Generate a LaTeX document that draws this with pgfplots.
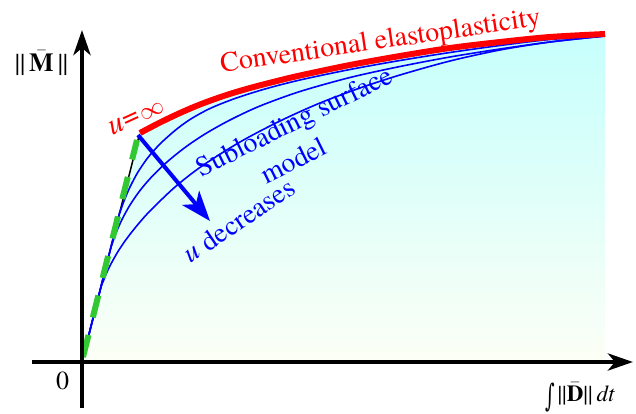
\documentclass[border=0pt]{standalone}
\usepackage{fontspec}
\setmainfont{TeX Gyre Termes}
\newfontfamily\symfont{DejaVu Serif}
\usepackage{graphicx}
\usepackage{pgfplots}
\pgfplotsset{compat=1.18}
\usetikzlibrary{arrows.meta}
\definecolor{myred}{RGB}{255,0,0}
\definecolor{myblue}{RGB}{0,0,255}
\definecolor{mygreen}{RGB}{50,200,50}
\definecolor{filltop}{RGB}{198,255,252}
\definecolor{fillmid}{RGB}{228,255,240}
\definecolor{fillbot}{RGB}{252,255,246}
\begin{document}
\begin{tikzpicture}
\begin{axis}[
  x=1pt, y=1pt,
  xmin=-50, xmax=551, ymin=-46, ymax=332,
  axis lines=middle,
  axis line style={line width=4.5pt},
  every inner x axis line/.append style={-{Stealth[length=25pt,width=17pt,inset=7pt]}},
  every inner y axis line/.append style={-{Stealth[length=25pt,width=17pt,inset=7pt]}},
  xtick=\empty, ytick=\empty,
  clip=false,
  axis on top,
]
% gradient area
\addplot[draw=none, top color=filltop, middle color=fillmid, bottom color=fillbot]
 coordinates {(0,0) (57,226) (58,229) (78,239.5) (98,249) (118,257.5) (143,266.5) (168,274) (193,280.5) (218,286.5) (268,297) (318,306) (368,314) (418,320) (468,325) (523,328)} \closedcycle;
% elastic line
\addplot[black, line width=1.5pt] coordinates {(0,0) (57,226)};
% subloading curves
\addplot[myblue, line width=1.6pt, smooth] coordinates {(0,0) (35,139) (38,149.5) (42,161) (48,175) (56,190) (66,204.5) (78,218) (93,231.5) (108,242.5) (128,253.5) (153,263.5) (183,273) (218,282) (268,292.5) (318,301.5) (368,309.5) (418,316.5) (468,322.5) (523,326)};
\addplot[myblue, line width=1.6pt, smooth] coordinates {(0,0) (27,107) (30,117.5) (34,129) (40,142.5) (48,157) (58,171.5) (70,185.5) (85,200) (103,214.5) (123,228) (148,242) (178,256) (218,270.5) (268,284.5) (318,295.5) (368,305) (418,313) (468,320) (523,326)};
\addplot[myblue, line width=1.6pt, smooth] coordinates {(0,0) (18,71) (21,80) (25,90) (30,100) (36,110.5) (43,121) (53,134) (67,150) (93,175) (120,196) (158,220) (198,241) (238,259) (278,274) (318,287) (368,301) (418,312) (468,320) (523,326)};
% green dashed
\addplot[mygreen, line width=6pt, dash pattern=on 22.7pt off 18pt] coordinates {(1,5) (55,222)};
% conventional
\addplot[myred, line width=6pt, smooth] coordinates {(58,229) (78,239.5) (98,249) (118,257.5) (143,266.5) (168,274) (193,280.5) (218,286.5) (268,297) (318,306) (368,314) (418,320) (468,325) (523,328)};
% arrow
\addplot[myblue, line width=4pt, -{Stealth[length=30pt,width=22pt,inset=8pt]}] coordinates {(56,227) (128,141)};
% texts
\node[myred, rotate=8.4, anchor=base, font=\fontsize{28}{32}\selectfont] at (axis cs:299.5,313) {Conventional elastoplasticity};
\node[myred, rotate=24.5, anchor=base, font=\fontsize{30}{34}\selectfont, inner sep=0pt] at (axis cs:57,239) {\textit{u}\kern1pt=\kern1pt$\infty$};
\node[myblue, rotate=26.3, anchor=base, font=\fontsize{28}{32}\selectfont] at (axis cs:216,232.5) {Subloading surface};
\node[myblue, rotate=26.3, anchor=base, font=\fontsize{28}{32}\selectfont] at (axis cs:215.4,193) {model};
\node[myblue, rotate=34, anchor=base, font=\fontsize{28}{32}\selectfont] at (axis cs:162,134) {\textit{u} decreases};
\node[font=\fontsize{26}{30}\selectfont] at (axis cs:-19.5,-18.5) {0};
\node[font=\fontsize{26}{30}\selectfont] at (axis cs:-40.5,298.5) {||\hspace{4pt}$\bar{\mbox{\textbf{M}}}$\hspace{4pt}||};
\node[font=\fontsize{23}{27}\selectfont, inner sep=1pt] at (axis cs:498,-35) {\raisebox{-0.22em}{\scalebox{0.8}[1.35]{\symfont ∫}}\hspace{3pt}||$\bar{\mbox{\textbf{D}}}$||\hspace{4pt}\textit{dt}};
\coordinate (BL) at (axis cs:-82,-52);
\coordinate (TR) at (axis cs:554,362);
\end{axis}
\pgfresetboundingbox
\path (BL) rectangle (TR);
\end{tikzpicture}
\end{document}
